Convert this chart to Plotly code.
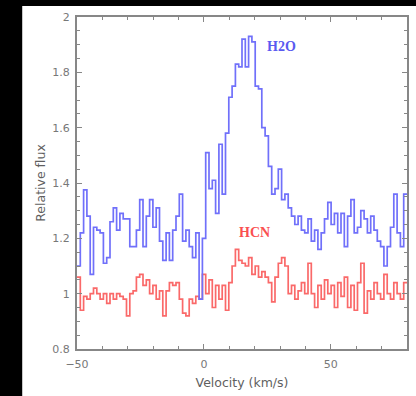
import plotly.graph_objects as go

# Spectral channels: start velocity and channel width (km/s)
v_start = -50.0
chan_width = 1.3

h2o_flux = [
    1.10, 1.22, 1.375, 1.28, 1.07, 1.24, 1.23, 1.22, 1.11, 1.13,
    1.26, 1.31, 1.23, 1.29, 1.27, 1.27, 1.17, 1.17, 1.23, 1.34,
    1.17, 1.28, 1.34, 1.24, 1.31, 1.19, 1.12, 1.22, 1.12, 1.23,
    1.28, 1.36, 1.19, 1.23, 1.17, 1.13, 1.22, 0.98, 1.20, 1.51,
    1.38, 1.41, 1.29, 1.54, 1.36, 1.58, 1.71, 1.75, 1.83, 1.82,
    1.92, 1.82, 1.93, 1.91, 1.75, 1.74, 1.60, 1.57, 1.46, 1.36,
    1.38, 1.45, 1.34, 1.36, 1.31, 1.28, 1.25, 1.28, 1.23, 1.22,
    1.27, 1.19, 1.23, 1.16, 1.22, 1.27, 1.33, 1.25, 1.29, 1.22,
    1.29, 1.17, 1.28, 1.34, 1.22, 1.24, 1.30, 1.27, 1.22, 1.28,
    1.23, 1.19, 1.17, 1.10, 1.17, 1.24, 1.36, 1.22, 1.17, 1.36,
]

hcn_flux = [
    1.06, 0.94, 0.99, 0.98, 1.00, 1.02, 1.00, 0.98, 1.00, 0.965,
    1.00, 0.98, 1.00, 0.99, 0.98, 0.92, 1.00, 1.01, 1.06, 1.07,
    1.03, 1.05, 1.00, 1.03, 0.98, 1.01, 0.92, 1.01, 1.04, 1.03,
    1.04, 0.98, 0.93, 0.92, 0.98, 0.965, 0.99, 0.98, 1.07, 1.00,
    1.05, 0.95, 1.03, 0.98, 1.03, 0.94, 1.04, 1.10, 1.16, 1.12,
    1.11, 1.10, 1.13, 1.07, 1.10, 1.06, 1.08, 1.06, 1.04, 0.97,
    1.06, 1.11, 1.13, 1.10, 1.00, 1.03, 0.98, 1.01, 1.04, 1.00,
    1.11, 1.00, 0.95, 1.03, 0.98, 1.05, 1.00, 1.03, 0.95, 1.04,
    0.99, 1.06, 0.95, 1.03, 0.94, 1.04, 1.11, 0.93, 1.01, 0.98,
    1.04, 1.00, 0.98, 1.07, 1.00, 0.98, 1.04, 1.00, 0.98, 1.04,
]

x_ticks = [-50, 0, 50]
y_ticks = [0.8, 1.0, 1.2, 1.4, 1.6, 1.8, 2.0]
y_ticklabels = ["0.8", "1", "1.2", "1.4", "1.6", "1.8", "2"]

n = len(h2o_flux)
vel = [v_start + chan_width * i for i in range(n + 1)]

blue = "rgb(112,112,250)"
red = "rgb(250,105,105)"
axis_gray = "rgb(135,135,135)"
font_fam = "DejaVu Sans"

fig = go.Figure()
fig.add_trace(go.Scatter(x=vel, y=hcn_flux + [hcn_flux[-1]], mode="lines",
                         line=dict(shape="hv", color=red, width=1.7), showlegend=False))
fig.add_trace(go.Scatter(x=vel, y=h2o_flux + [h2o_flux[-1]], mode="lines",
                         line=dict(shape="hv", color=blue, width=1.7), showlegend=False))

fig.add_annotation(x=24.2, y=1.895, text="<b>H2O</b>", showarrow=False,
                   xanchor="left", font=dict(family="Liberation Serif", size=14, color="rgb(90,90,240)"))
fig.add_annotation(x=20, y=1.22, text="<b>HCN</b>", showarrow=False,
                   xanchor="center", font=dict(family="Liberation Serif", size=14, color="rgb(250,80,80)"))

# white page region (the reference has a black border at top and left)
fig.add_shape(type="rect", xref="paper", yref="paper",
              x0=-0.166, x1=1.03, y0=-0.15, y1=1.033,
              fillcolor="white", line=dict(width=0), layer="below")

axis_common = dict(showgrid=False, zeroline=False, showline=True, linecolor=axis_gray,
                   linewidth=2, mirror="ticks", ticks="inside", ticklen=5, tickwidth=1,
                   tickcolor=axis_gray,
                   tickfont=dict(family=font_fam, size=11, color="rgb(120,120,120)"))

fig.update_xaxes(range=[-50, 80], tickvals=x_ticks, ticklabelstandoff=4,
                 minor=dict(dtick=10, tick0=0, ticks="inside", ticklen=3, tickcolor=axis_gray),
                 title=dict(text="Velocity (km/s)", standoff=8,
                            font=dict(family=font_fam, size=12.5, color="rgb(95,95,95)")),
                 **axis_common)
fig.update_yaxes(range=[0.8, 2.0], tickvals=y_ticks, ticktext=y_ticklabels, ticklabelstandoff=3,
                 minor=dict(dtick=0.05, tick0=0.8, ticks="inside", ticklen=3, tickcolor=axis_gray),
                 title=dict(text="Relative flux", standoff=4,
                            font=dict(family=font_fam, size=12.5, color="rgb(95,95,95)")),
                 **axis_common)

fig.update_layout(width=416, height=396, margin=dict(l=77, r=7, t=17, b=47),
                  paper_bgcolor="black", plot_bgcolor="white")

fig.write_html("out.html")
